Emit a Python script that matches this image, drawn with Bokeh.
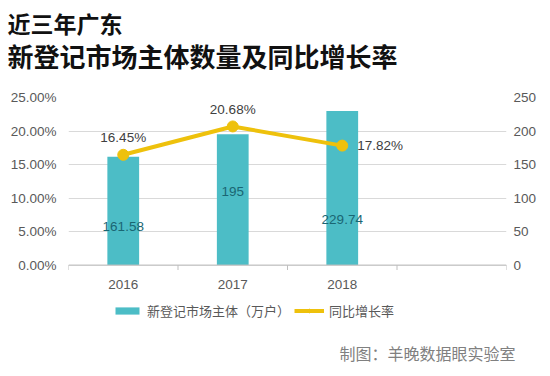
from bokeh.plotting import figure
from bokeh.models import (Range1d, LinearAxis, FixedTicker, Title, Legend, LegendItem,
                          ColumnDataSource, CustomJSTickFormatter, Span)
from bokeh.embed import file_html
from bokeh.resources import INLINE
from bokeh.core.properties import value

# ---- data ----
years = ["2016", "2017", "2018"]
new_entities = [161.58, 195, 229.74]          # 万户
growth_pct = [16.45, 20.68, 17.82]            # %
new_entities_labels = ["161.58", "195", "229.74"]
growth_labels = ["16.45%", "20.68%", "17.82%"]
left_ticks = [0, 5, 10, 15, 20, 25]
right_ticks = [0, 50, 100, 150, 200, 250]
bar_label_y = [58, 110, 68]                   # where the value labels sit (count units)

title1 = "近三年广东"
title2 = "新登记市场主体数量及同比增长率"
footer = "制图：羊晚数据眼实验室"
legend_bar = "新登记市场主体（万户）"
legend_line = "同比增长率"

BAR = "#4cbdc6"
GOLD = "#eec10c"
CJK = "Noto Sans CJK SC"
LAT = "Liberation Sans"
TICK_FS = "13.5px"

W, H = 543, 374
LEFT, RIGHT, TOP, BOTTOM = 68, 37, 97, 44   # borders
PLOT_PX = 169                 # pixels from 0 to the top tick
FRAME_PX = H - TOP - BOTTOM
PCT_MAX, CNT_MAX = 25, 250
ext = (FRAME_PX - PLOT_PX) / PLOT_PX     # room under the zero line for axis labels & legend

p = figure(width=W, height=H, output_backend="svg", toolbar_location=None,
           x_axis_location=None,
           x_range=Range1d(0, 4), y_range=Range1d(-PCT_MAX * ext, PCT_MAX),
           min_border_left=LEFT, min_border_right=RIGHT,
           min_border_top=TOP, min_border_bottom=BOTTOM)
p.extra_y_ranges = {"cnt": Range1d(-CNT_MAX * ext, CNT_MAX)}
p.outline_line_color = None
p.background_fill_color = "white"
p.border_fill_color = "white"

xs = [i + 0.5 for i in range(len(years))]
src = ColumnDataSource(dict(x=xs, n=new_entities, g=growth_pct, nl=new_entities_labels,
                            gl=growth_labels, ly=bar_label_y, yr=years,
                            zero=[0] * len(years)))

bars = p.vbar(x="x", top="n", width=0.29, source=src, y_range_name="cnt",
              fill_color=BAR, line_color=None)
line = p.line(x="x", y="g", source=src, line_color=GOLD, line_width=4)
dots = p.scatter(x="x", y="g", source=src, size=11, fill_color=GOLD, line_color=GOLD)

# bar value labels
p.text(x="x", y="ly", text="nl", source=src, y_range_name="cnt",
       text_align="center", text_baseline="middle", text_color="#1a6673",
       text_font=value(LAT), text_font_size=TICK_FS)

# growth labels
src_a = ColumnDataSource(dict(x=xs[:2], g=growth_pct[:2], gl=growth_labels[:2]))
src_b = ColumnDataSource(dict(x=xs[2:], g=growth_pct[2:], gl=growth_labels[2:]))
p.text(x="x", y="g", text="gl", source=src_a, text_align="center", text_baseline="middle",
       y_offset=-17, text_color="#404040", text_font=value(LAT), text_font_size=TICK_FS)
p.text(x="x", y="g", text="gl", source=src_b, text_align="left", text_baseline="middle",
       x_offset=15, text_color="#404040", text_font=value(LAT), text_font_size=TICK_FS)

# category axis drawn at the zero line
p.add_layout(Span(location=0, dimension="width", line_color="#bfbfbf", line_width=1))
bounds = list(range(len(years) + 2))
tick_len = PCT_MAX / PLOT_PX * 5
p.segment(x0=bounds, y0=[0] * len(bounds), x1=bounds, y1=[-tick_len] * len(bounds),
          line_color="#bfbfbf", line_width=1)
p.text(x="x", y="zero", text="yr", source=src, text_align="center", text_baseline="top",
       y_offset=15, text_color="#595959", text_font=value(LAT), text_font_size=TICK_FS)

# y axes
p.xgrid.grid_line_color = None
p.ygrid.ticker = FixedTicker(ticks=left_ticks)
p.ygrid.grid_line_color = "#d9d9d9"

yax = p.yaxis[0]
yax.ticker = FixedTicker(ticks=left_ticks)
yax.formatter = CustomJSTickFormatter(code="return tick.toFixed(2) + '%';")
yax.axis_line_color = None
yax.major_tick_line_color = None
yax.minor_tick_line_color = None
yax.major_label_standoff = 6
yax.major_label_text_font = LAT
yax.major_label_text_font_size = TICK_FS
yax.major_label_text_color = "#595959"

rax = LinearAxis(y_range_name="cnt", ticker=FixedTicker(ticks=right_ticks))
rax.axis_line_color = None
rax.major_tick_line_color = None
rax.minor_tick_line_color = None
rax.major_label_standoff = 1
rax.major_label_text_font = LAT
rax.major_label_text_font_size = TICK_FS
rax.major_label_text_color = "#595959"
p.add_layout(rax, "right")

legend = Legend(items=[LegendItem(label=legend_bar, renderers=[bars]),
                       LegendItem(label=legend_line, renderers=[line, dots])],
                orientation="horizontal", location=(44, 8))
legend.margin = 0
legend.padding = 2
legend.spacing = 4
legend.glyph_width = 30
legend.glyph_height = 9
legend.label_standoff = 5
legend.label_text_font = CJK
legend.label_text_font_size = "13px"
legend.label_text_color = "#595959"
legend.border_line_color = None
legend.background_fill_alpha = 0
p.add_layout(legend, "center")

# footer
p.add_layout(Title(text=footer, align="right", offset=-9, standoff=20,
                   text_font=CJK, text_font_style="normal", text_font_size="16px",
                   text_color="#808080"), "below")

# titles (first added sits nearest the frame)
p.add_layout(Title(text=title2, align="left", offset=-61, standoff=47,
                   text_font=CJK, text_font_style="bold", text_font_size="26px",
                   text_color="#111111"), "above")
p.add_layout(Title(text=title1, align="left", offset=-61, standoff=-56,
                   text_font=CJK, text_font_style="bold", text_font_size="23px",
                   text_color="#111111"), "above")

open("out.html", "w").write(file_html(p, INLINE))
